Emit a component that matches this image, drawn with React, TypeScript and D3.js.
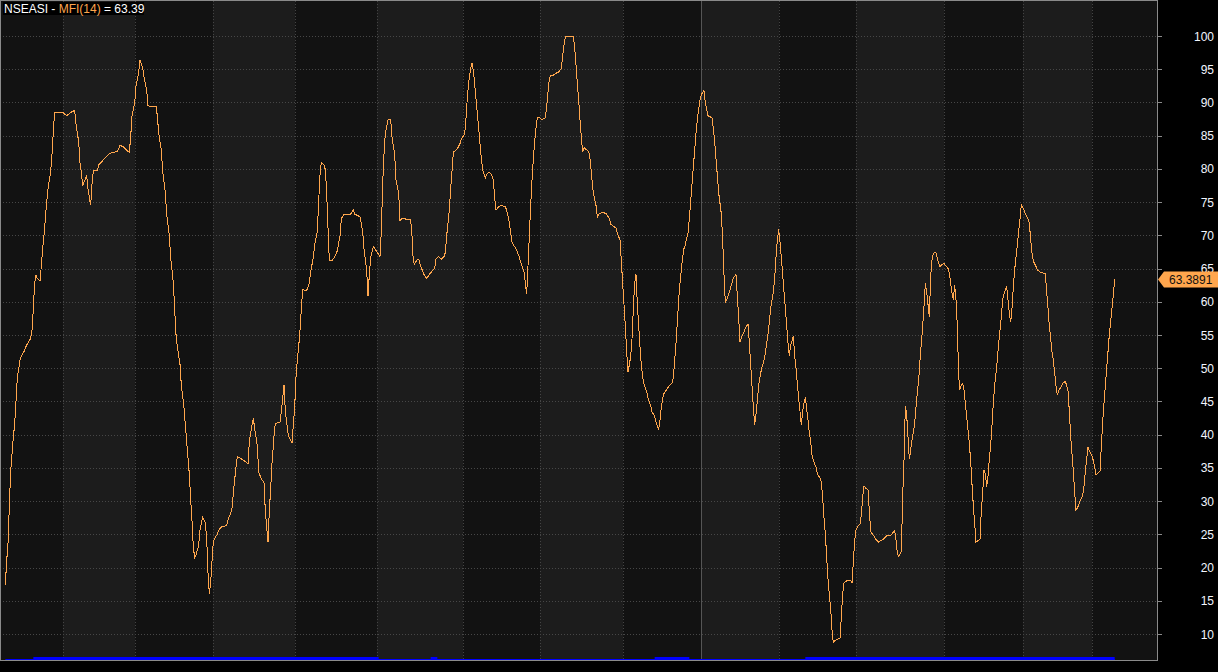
import { useEffect, useRef } from 'react'
import * as d3 from 'd3'

// bar index of each traced vertex and the MFI(14) value at that bar
const bars = [
  0, 1, 2, 3, 4, 6, 7, 8, 9, 11, 12, 14, 16, 19, 20, 21, 22, 23, 24, 26, 27, 28, 29, 30, 31, 32, 34, 35, 36, 37,
  43, 46, 49, 52, 53, 55, 56, 57, 58, 59, 61, 62, 63, 64, 65, 66, 69, 70, 72, 75, 78, 81, 84, 86, 88, 91, 93, 94, 95, 97,
  98, 100, 101, 103, 104, 106, 107, 109, 113, 114, 115, 117, 118, 120, 121, 123, 124, 126, 127, 128, 129, 131, 132, 134, 135, 136, 138, 139, 140, 141,
  142, 143, 144, 145, 146, 147, 148, 149, 150, 151, 152, 153, 154, 155, 156, 157, 159, 160, 162, 164, 166, 167, 169, 170, 171, 172, 173, 174, 176, 179,
  182, 183, 185, 186, 187, 189, 190, 192, 194, 195, 197, 198, 199, 200, 201, 202, 203, 206, 207, 208, 209, 210, 212, 213, 215, 216, 217, 218, 219, 220,
  221, 222, 223, 225, 226, 228, 229, 231, 232, 234, 235, 236, 237, 239, 240, 241, 242, 243, 245, 247, 249, 251, 252, 254, 259, 261, 262, 266, 268, 269,
  271, 272, 273, 274, 276, 278, 281, 282, 283, 284, 285, 287, 289, 290, 292, 293, 295, 296, 298, 301, 304, 305, 306, 307, 309, 310, 312, 314, 316, 318,
  320, 322, 323, 325, 327, 329, 330, 331, 333, 334, 335, 336, 339, 341, 342, 344, 345, 346, 347, 348, 349, 350, 351, 352, 353, 354, 355, 356, 357, 358,
  360, 361, 363, 365, 366, 367, 368, 370, 372, 375, 376, 378, 380, 381, 383, 385, 387, 389, 390, 391, 392, 393, 394, 395, 396, 397, 398, 399, 401, 402,
  405, 406, 407, 408, 409, 411, 414, 415, 417, 418, 419, 420, 426, 427, 428, 429, 430, 431, 432, 433, 434, 437, 438, 439, 440, 441, 443, 444, 445, 447,
  449, 451, 453, 454, 456, 458, 459, 461, 462, 463, 464, 465, 466, 467, 468, 469, 470, 471, 472, 473, 474, 475, 476, 477, 478, 479, 481, 482, 484, 485,
  487, 488, 490, 491, 492, 493, 494, 496, 498, 500, 501, 502, 503, 504, 505, 506, 507, 508, 509, 510, 511, 512, 513, 514, 515, 516, 517, 518, 519, 520,
  521, 522, 524, 525, 527, 530, 531, 532, 533, 534, 535, 537, 538, 539, 540, 541, 543, 545, 546, 548, 549, 550, 551, 552, 554, 555, 557, 558, 559, 560,
  561, 562, 563, 564, 565, 566, 567, 568, 569, 570, 571, 572, 573, 574, 575, 576, 577, 578, 579, 580, 581, 582, 583, 584, 585, 586, 587, 588, 589, 590,
  591, 592, 593, 594, 595, 596, 597, 598, 599, 600, 601, 602, 603, 604, 605, 606, 608, 609, 611, 612, 613, 614, 615, 616, 617, 618, 619, 620, 621, 622,
  624, 626, 627, 628, 629, 631, 634, 635, 636, 637, 638, 639, 641, 642, 643, 644, 645, 647, 648, 649, 650, 652, 653, 655, 656, 658, 659, 661, 664, 665,
  667, 668, 669, 670, 671, 672, 673, 674, 675, 676, 677, 678, 679, 680, 681, 682, 683, 684, 685, 686, 687, 688, 689, 690, 691, 693, 694, 695, 696, 698,
  699, 701, 702, 704, 705, 707, 708, 709, 710, 711, 712, 713, 714, 715, 716, 717, 718, 719, 720, 721, 722, 723, 724, 725, 726, 727, 728, 729, 731, 732,
  733, 734, 735, 736, 737, 738, 739, 740, 741, 742, 743, 744, 745, 746, 747, 748, 749, 750, 751, 752, 753, 754, 755, 756, 757, 758, 759, 760, 761, 762,
  764, 765, 767, 768, 769, 770, 771, 773, 774, 776, 780, 781, 782, 783, 784, 785, 786, 787, 788, 789, 790, 792, 793, 795, 796, 797, 798, 799, 800, 801,
  802, 803, 805, 806, 808, 809, 810, 811, 812, 813, 815, 816, 817, 818, 819, 821, 822, 823, 824, 825, 826, 827, 828, 829, 830, 831, 832,
]

const mfi = [
  17.4, 21, 23.5, 29.3, 34.5, 39.6, 41.6, 45, 48.6, 51.2, 51.8, 52.5, 53.5, 54.5, 55.7, 59, 62.8, 64, 63.5, 63.1, 65.4, 68, 70, 72.5, 75, 77, 79.6, 82.2, 85.7, 88.5,
  88.5, 88, 88.5, 88.8, 86.7, 84.1, 80.9, 79.6, 77.4, 78, 79, 77, 75.7, 74.5, 77.7, 79.7, 79.7, 80.6, 81, 81.7, 82.3, 82.5, 82.6, 83.5, 83.4, 82.8, 82.5, 84.8, 88, 89.9,
  92.5, 94.5, 96.4, 95.2, 93.8, 91.9, 89.5, 89.4, 89.4, 88, 85.4, 82.8, 79.6, 76.4, 73.2, 69.9, 66.7, 62.8, 58.9, 55.1, 53.2, 50.6, 47.4, 44.1, 41.5, 39, 34, 30.2, 27, 23.1,
  21.5, 21.9, 22.6, 23.4, 25.6, 26.7, 27.6, 27.2, 26.7, 24.4, 19.2, 16.1, 17.7, 20.9, 23.9, 24.4, 25, 25.6, 26.1, 26.2, 26.4, 27.2, 28.2, 29, 31.2, 33.2, 35.1, 36.7, 36.5, 36.1,
  35.6, 39, 41.5, 42.5, 40.9, 38.3, 34.4, 33.3, 32.8, 28.5, 23.8, 28.5, 31.9, 35.7, 38.3, 41.2, 41.7, 41.9, 43.5, 45.4, 47.5, 43.5, 40.3, 39.5, 38.7, 41.6, 44.1, 48.6, 51.2, 53.2,
  55.7, 59, 61.9, 61.7, 61.7, 62.8, 64.5, 66.7, 68.6, 70.6, 75.1, 79, 81, 80.6, 79.9, 76.4, 71.2, 66.2, 66.2, 66.7, 67.7, 69.9, 72.5, 73.2, 73.2, 73.8, 73.2, 72.8, 70.6, 68,
  64.8, 60.9, 64.1, 66.7, 68.3, 67.7, 66.8, 70.6, 77.7, 82.2, 85.4, 87.4, 87.4, 84.8, 82.2, 78.3, 76.4, 72.2, 72.6, 72.4, 72.4, 69.9, 66, 65.7, 66.4, 66.4, 65.1, 64.1, 63.5, 64.1,
  64.6, 65.1, 66.4, 66.8, 66.4, 66.8, 67.4, 69.9, 73.8, 77, 79.6, 82.5, 83, 83.8, 84.5, 85.1, 86.1, 89.3, 91.9, 93.8, 95.1, 95.9, 94.8, 92.8, 90.6, 88.3, 86.1, 83.8, 81.5, 79.9,
  78.6, 79.2, 79.5, 79, 78.3, 75.7, 73.8, 74.3, 74.5, 74.3, 73.8, 71.9, 69, 68.6, 68, 67, 65.7, 64.5, 62.8, 61.2, 65.4, 69.9, 74.5, 78.3, 81.5, 84.1, 86.1, 87.7, 87.7, 87.4,
  87.7, 89.3, 91.5, 93.5, 94.1, 94.1, 94.5, 94.6, 95.1, 97, 98.6, 99.9, 99.9, 98.3, 95.7, 92.8, 90.3, 87.4, 84.8, 82.5, 83.2, 82.7, 82.3, 80.6, 78.3, 76.4, 74.5, 72.8, 73.2, 73.4,
  73.4, 73.2, 72.5, 71.7, 71.4, 71.1, 70.3, 69.3, 66.1, 62.8, 59.6, 56.4, 52.5, 49.5, 50.5, 51.8, 54.4, 59, 62.8, 64.1, 59.6, 56.4, 53.2, 50.5, 48.6, 47.6, 46.5, 45.5, 44.4, 43.4,
  42.8, 41.9, 40.7, 42.2, 44.1, 45.4, 46.2, 46.8, 47.4, 47.7, 48.6, 51.2, 53.8, 57, 60.3, 62.8, 64.8, 66.7, 68, 68.6, 69.6, 70.3, 72.5, 75.1, 77.7, 80.3, 82.8, 85.4, 87.4, 89,
  90.3, 91.2, 91.8, 89.9, 88, 87.7, 86.1, 84.1, 81.5, 79, 76.4, 73.2, 69.3, 64.1, 59.9, 60.3, 61.5, 62.8, 63.6, 64.1, 60.9, 57.7, 53.9, 54.6, 55.4, 56, 56.7, 53.8, 50.5, 47.4,
  44.1, 41.5, 43.1, 45.1, 47.4, 48.6, 49.8, 50.5, 51.2, 52.2, 53.8, 55.1, 57, 59, 60.3, 61.5, 63.5, 66.7, 69.3, 70.9, 69, 66.7, 64.1, 61.5, 59, 56.4, 53.8, 51.9, 53.5, 54.1,
  54.8, 51.9, 50, 47.7, 45.5, 43.5, 41.5, 43.5, 44.8, 45.6, 43.9, 42.2, 40.3, 39, 37, 36.1, 35.1, 34.1, 33.5, 32.8, 30.6, 27.4, 25.1, 21.6, 18.3, 15.8, 13.8, 10.6, 8.7, 9,
  9.2, 9.4, 12.5, 16.1, 17.7, 18, 18, 17.7, 20.9, 24.1, 25.7, 26.1, 26.6, 28, 30.6, 32.3, 32, 31.7, 28.6, 25.5, 25.1, 24.6, 24.2, 23.8, 24, 24.2, 24.4, 24.8, 24.8, 25.1,
  25.5, 24.1, 22.2, 21.7, 22, 22.5, 30.6, 36.1, 44.3, 43, 39.7, 36.3, 37.7, 39.2, 40.4, 41.7, 44.2, 46.3, 48.2, 51.2, 53.8, 56.3, 59.3, 62.8, 61.5, 57.7, 63.8, 66.3, 67.3, 67.4,
  66.5, 65.3, 65.5, 65.8, 65.5, 65, 64.3, 62.8, 61.3, 60.3, 62.5, 60.3, 56.3, 48.7, 46.8, 47.5, 47.7, 46.7, 44.7, 42.7, 40.7, 38.7, 36, 32.5, 29.3, 26.7, 23.8, 24, 24.2, 28.6,
  31.2, 34.7, 34.1, 32.2, 33.8, 36.4, 38.3, 41.5, 44.8, 47.4, 49.3, 51.2, 53.8, 55.7, 57.7, 60.3, 61.2, 61.7, 62.3, 60.3, 58.3, 56.9, 59, 62.2, 64.8, 66.7, 68.6, 70.6, 72.5, 74.6,
  73.8, 73.2, 72.5, 71.9, 69.3, 67.4, 66.1, 65.3, 64.8, 64.5, 64.2, 61.6, 59, 56.4, 54.5, 52.5, 51.2, 49.3, 47.4, 46, 46.6, 47.3, 47.7, 48, 47.4, 46.6, 43.5, 39.7, 37.1, 34.5,
  31.3, 28.6, 29.4, 30, 30.8, 32.2, 34.5, 36.4, 38.1, 37.6, 36.8, 36.1, 35.1, 34, 34.1, 34.5, 38.3, 41.9, 44.8, 47.4, 49.9, 52.5, 55.1, 57, 59, 61, 63.3891,
]

// first bar of each month (month shading / vertical grid), year change is solid
const monthStarts = [43, 97, 156, 217, 279, 343, 401, 463, 522, 580, 638, 704, 763, 815]
const yearStart = 522
const yTicks = [10, 15, 20, 25, 30, 35, 40, 45, 50, 55, 60, 65, 70, 75, 80, 85, 90, 95, 100]

// blue ribbon segments along the bottom (bar ranges)
const ribbonFrom = [21, 319, 487, 600]
const ribbonTo = [280, 324, 513, 832]

const symbol = 'NSEASI'
const indicatorName = 'MFI(14)'
const lastValue = mfi[mfi.length - 1]

export default function App() {
  const svgRef = useRef<SVGSVGElement>(null)

  useEffect(() => {
    const W = 1218
    const H = 672
    const plot = { left: 1, top: 1, right: 1157, bottom: 660 }
    const orange = '#ffa64d'
    const font = 'Arial, "Liberation Sans", sans-serif'

    const svg = d3.select(svgRef.current)
    svg.selectAll('*').remove()

    svg.append('rect').attr('width', W).attr('height', H).attr('fill', '#000')

    const x = d3.scaleLinear().domain([0, 832]).range([5.33, 1114.67])
    const y = d3.scaleLinear().domain([10, 100]).range([634, 36])

    // month shading
    const edges = [plot.left, ...monthStarts.map(b => Math.round(x(b))), plot.right]
    svg.append('g')
      .selectAll('rect')
      .data(d3.range(edges.length - 1))
      .enter()
      .append('rect')
      .attr('x', i => edges[i])
      .attr('y', plot.top)
      .attr('width', i => edges[i + 1] - edges[i])
      .attr('height', plot.bottom - plot.top)
      .attr('fill', i => (i % 2 ? '#1c1c1c' : '#121212'))

    // horizontal grid
    svg.append('g')
      .selectAll('line')
      .data(yTicks)
      .enter()
      .append('line')
      .attr('x1', 3)
      .attr('x2', plot.right)
      .attr('y1', d => Math.round(y(d)) + 0.5)
      .attr('y2', d => Math.round(y(d)) + 0.5)
      .attr('stroke', '#474747')
      .attr('stroke-dasharray', '1,2')

    // vertical grid
    svg.append('g')
      .selectAll('line')
      .data(monthStarts)
      .enter()
      .append('line')
      .attr('x1', d => Math.round(x(d)) + 0.5)
      .attr('x2', d => Math.round(x(d)) + 0.5)
      .attr('y1', plot.top)
      .attr('y2', plot.bottom)
      .attr('stroke', d => (d === yearStart ? '#555' : '#444'))
      .attr('stroke-dasharray', d => (d === yearStart ? null : '1,2'))

    // blue ribbon at the bottom
    svg.append('line')
      .attr('x1', x(0))
      .attr('x2', x(832))
      .attr('y1', 659.5)
      .attr('y2', 659.5)
      .attr('stroke', '#0000ff')
    svg.append('g')
      .selectAll('rect')
      .data(ribbonFrom)
      .enter()
      .append('rect')
      .attr('x', d => x(d))
      .attr('width', (d, i) => x(ribbonTo[i]) - x(d))
      .attr('y', 657)
      .attr('height', 3)
      .attr('fill', '#0000ff')

    // MFI line
    const line = d3.line<number>()
      .x((d, i) => x(bars[i]))
      .y(d => y(d))
    svg.append('path')
      .datum(mfi)
      .attr('d', line)
      .attr('fill', 'none')
      .attr('stroke', orange)
      .attr('stroke-width', 1)
      .attr('shape-rendering', 'crispEdges')

    // frame + right axis
    const frame = svg.append('g').attr('stroke', '#8a8a8a').attr('shape-rendering', 'crispEdges')
    frame.append('line').attr('x1', 0.5).attr('x2', 0.5).attr('y1', 0).attr('y2', plot.bottom + 1)
    frame.append('line').attr('x1', 0).attr('x2', plot.right).attr('y1', 0.5).attr('y2', 0.5)
    frame.append('line').attr('x1', 0).attr('x2', plot.right + 1).attr('y1', plot.bottom + 0.5).attr('y2', plot.bottom + 0.5)
    frame.append('line').attr('x1', plot.right + 0.5).attr('x2', plot.right + 0.5).attr('y1', 0).attr('y2', plot.bottom + 1)

    frame.selectAll('.tick')
      .data(yTicks)
      .enter()
      .append('line')
      .attr('x1', plot.right)
      .attr('x2', plot.right + 5)
      .attr('y1', d => Math.round(y(d)) + 0.5)
      .attr('y2', d => Math.round(y(d)) + 0.5)

    svg.append('g')
      .selectAll('text')
      .data(yTicks)
      .enter()
      .append('text')
      .attr('x', 1214)
      .attr('y', d => y(d) + 4.5)
      .attr('text-anchor', 'end')
      .attr('fill', '#f2f6ff')
      .style('font-family', font)
      .style('font-size', '12px')
      .text(d => d)

    // last value marker on the axis
    const ly = Math.round(y(lastValue)) + 0.5
    svg.append('path')
      .attr('d', `M${plot.right + 1},${ly} L${plot.right + 7},${ly - 8} L${W},${ly - 8} L${W},${ly + 8} L${plot.right + 7},${ly + 8} Z`)
      .attr('fill', orange)
    svg.append('text')
      .attr('x', 1169)
      .attr('y', ly + 4.5)
      .attr('fill', '#111')
      .style('font-family', font)
      .style('font-size', '12px')
      .text(d3.format('.4f')(lastValue))

    // title
    svg.append('rect').attr('x', 3).attr('y', 2).attr('width', 141).attr('height', 13).attr('fill', '#000')
    const title = svg.append('text')
      .attr('x', 4)
      .attr('y', 13)
      .style('font-family', font)
      .style('font-size', '12px')
    title.append('tspan').attr('fill', '#fff').text(`${symbol} - `)
    title.append('tspan').attr('fill', orange).text(indicatorName)
    title.append('tspan').attr('fill', '#fff').text(` = ${d3.format('.2f')(lastValue)}`)
  }, [])

  return (
    <div style={{ position: 'absolute', left: 0, top: 0 }}>
      <svg ref={svgRef} width={1218} height={672} style={{ display: 'block' }}></svg>
    </div>
  )
}
